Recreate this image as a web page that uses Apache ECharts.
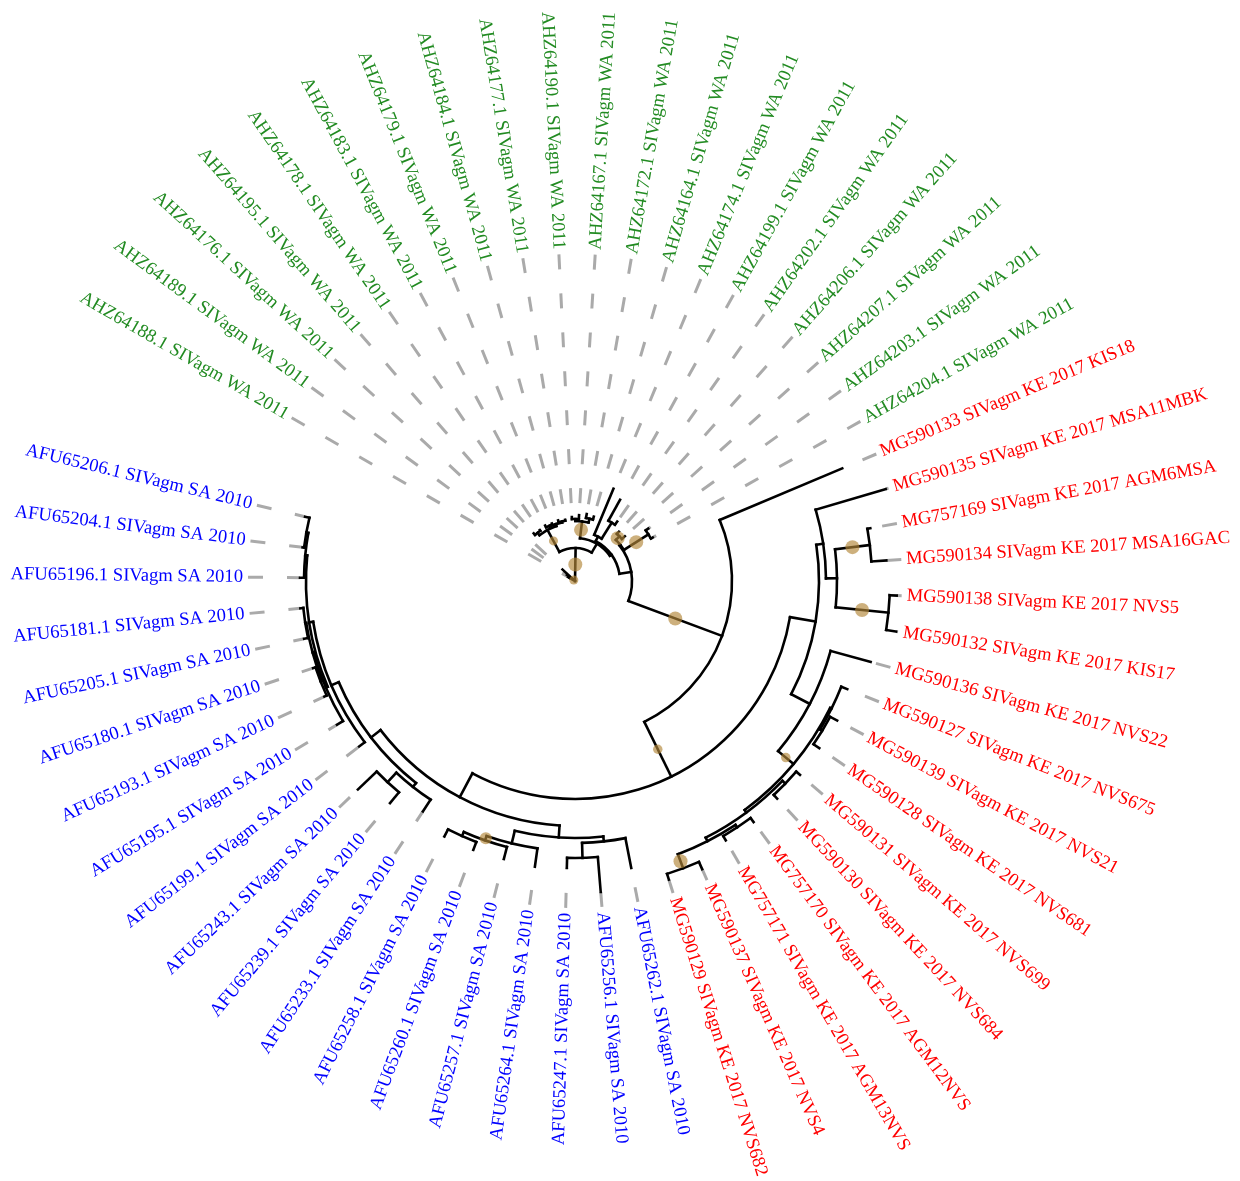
<!DOCTYPE html>
<html><head><meta charset="utf-8">
<script src="https://cdn.jsdelivr.net/npm/echarts@6.0.0/dist/echarts.min.js"></script>
<style>html,body{margin:0;padding:0;background:#fff}#c{width:1240px;height:1181px}</style>
</head><body><div id="c"></div>
<script>
// ---------------- data ----------------
const tipNames = [
 'AFU65206.1 SIVagm SA 2010','AFU65204.1 SIVagm SA 2010','AFU65196.1 SIVagm SA 2010','AFU65181.1 SIVagm SA 2010',
 'AFU65205.1 SIVagm SA 2010','AFU65180.1 SIVagm SA 2010','AFU65193.1 SIVagm SA 2010','AFU65195.1 SIVagm SA 2010',
 'AFU65199.1 SIVagm SA 2010','AFU65243.1 SIVagm SA 2010','AFU65239.1 SIVagm SA 2010','AFU65233.1 SIVagm SA 2010',
 'AFU65258.1 SIVagm SA 2010','AFU65260.1 SIVagm SA 2010','AFU65257.1 SIVagm SA 2010','AFU65264.1 SIVagm SA 2010',
 'AFU65247.1 SIVagm SA 2010','AFU65256.1 SIVagm SA 2010','AFU65262.1 SIVagm SA 2010',
 'MG590129 SIVagm KE 2017 NVS682','MG590137 SIVagm KE 2017 NVS4','MG757171 SIVagm KE 2017 AGM13NVS',
 'MG757170 SIVagm KE 2017 AGM12NVS','MG590130 SIVagm KE 2017 NVS684','MG590131 SIVagm KE 2017 NVS699',
 'MG590128 SIVagm KE 2017 NVS681','MG590139 SIVagm KE 2017 NVS21','MG590127 SIVagm KE 2017 NVS675',
 'MG590136 SIVagm KE 2017 NVS22','MG590132 SIVagm KE 2017 KIS17','MG590138 SIVagm KE 2017 NVS5',
 'MG590134 SIVagm KE 2017 MSA16GAC','MG757169 SIVagm KE 2017 AGM6MSA','MG590135 SIVagm KE 2017 MSA11MBK',
 'MG590133 SIVagm KE 2017 KIS18',
 'AHZ64204.1 SIVagm WA 2011','AHZ64203.1 SIVagm WA 2011','AHZ64207.1 SIVagm WA 2011','AHZ64206.1 SIVagm WA 2011',
 'AHZ64202.1 SIVagm WA 2011','AHZ64199.1 SIVagm WA 2011','AHZ64174.1 SIVagm WA 2011','AHZ64164.1 SIVagm WA 2011',
 'AHZ64172.1 SIVagm WA 2011','AHZ64167.1 SIVagm WA 2011','AHZ64190.1 SIVagm WA 2011','AHZ64177.1 SIVagm WA 2011',
 'AHZ64184.1 SIVagm WA 2011','AHZ64179.1 SIVagm WA 2011','AHZ64183.1 SIVagm WA 2011','AHZ64178.1 SIVagm WA 2011',
 'AHZ64195.1 SIVagm WA 2011','AHZ64176.1 SIVagm WA 2011','AHZ64189.1 SIVagm WA 2011','AHZ64188.1 SIVagm WA 2011'
];
const tipGroup = [
 'SA','SA','SA','SA','SA','SA','SA','SA','SA','SA','SA','SA','SA','SA','SA','SA','SA','SA','SA',
 'KE','KE','KE','KE','KE','KE','KE','KE','KE','KE','KE','KE','KE','KE','KE','KE',
 'WA','WA','WA','WA','WA','WA','WA','WA','WA','WA','WA','WA','WA','WA','WA','WA','WA','WA','WA','WA'
];
// distance of each tip from the root (tree units)
const tipDepth = [
 2.775,2.745,2.75,2.76,2.77,2.76,2.76,2.78,2.72,3.01,2.89,2.76,2.87,2.875,2.87,2.885,2.87,3.12,2.925,
 3.13,3.15,3.00,3.00,2.97,2.97,2.96,2.97,2.93,3.065,3.25,3.22,3.12,3.00,3.24,2.90,
 0.89,0.90,0.67,0.66,0.73,0.93,1.00,0.67,0.68,0.66,0.64,0.62,0.63,0.62,0.63,0.62,0.63,0.17,0.10,0.08
];
// internal nodes: name, depth from root, children, bootstrap support (0 = not shown)
const nodeName  = ['root','N33','Rp','R','nA','n157','n218','nB','nBL','nBLa','X','X2','X3','X6','W','W1','W2',
  'nBLb','n275','nBR','c1','n2745','n279','nR262','n277','n243','n265','n285','Q','Qa','Q11','Q12','Qb','P','P1',
  'n251','n262','n315','n297','G3','G36','G38','nT','nT2','M','M1','M2','L','L1','L11','L12','L2','B','nB2'];
const nodeDepth = [0,0.33,0.43,0.45,0.57,1.57,2.18,2.45,2.57,2.65,2.69,2.71,2.73,2.71,2.72,2.73,2.735,
  2.62,2.75,2.57,2.70,2.745,2.79,2.62,2.77,2.44,2.65,2.85,2.88,2.92,3.07,2.95,2.92,2.865,2.89,
  2.51,2.62,3.15,2.97,0.58,0.87,0.63,0.50,0.69,0.60,0.64,0.62,0.58,0.60,0.61,0.61,0.61,0.03,0.06];
const nodeKids  = [
 ['N33','B'],['Rp','L'],['R','M'],['nA','nT'],['n157','G3'],['n218','t35'],['nB','n243'],['nBL','nBR'],
 ['nBLa','nBLb'],['X','t9'],['X2','X6'],['X3','t3'],['t1','t2'],['W','t8'],['W1','W2'],['t4','t5'],['t6','t7'],
 ['n275','t12'],['t10','t11'],['c1','nR262'],['n2745','t16'],['n279','t15'],['t13','t14'],['n277','t19'],['t17','t18'],
 ['n265','n251'],['n285','t29'],['Q','P'],['Qa','Qb'],['Q11','Q12'],['t20','t21'],['t22','t23'],['t24','t25'],
 ['P1','t28'],['t26','t27'],
 ['n262','t34'],['n315','n297'],['t30','t31'],['t32','t33'],
 ['G36','G38'],['t36','t37'],['t38','t39'],['nT2','t42'],['t40','t41'],['M1','M2'],['t43','t44'],['t45','t46'],
 ['L1','L2'],['L11','L12'],['t47','t48'],['t49','t50'],['t51','t52'],['t53','nB2'],['t54','t55']
];
const nodeSupport = {N33:100, M:100, L:45, B:45, n157:100, n218:50, n285:50, n297:100, n315:100,
  Q11:100, n2745:80, G38:100, G36:100};
const groupColor = {SA:'#0000FF', KE:'#FF0000', WA:'#228B22'};
const labelRadius = 3.32;

// ---------------- layout (ggtree-style circular) ----------------
const depthOf = {}, angleOf = {}, parentOf = {};
tipNames.forEach((n,i)=>{ depthOf['t'+(i+1)] = tipDepth[i]; angleOf['t'+(i+1)] = i+1; });
nodeName.forEach((n,i)=>{ depthOf[n] = nodeDepth[i]; nodeKids[i].forEach(k=>parentOf[k]=n); });
function ang(id){
  if (angleOf[id] !== undefined) return angleOf[id];
  const i = nodeName.indexOf(id);
  const a = nodeKids[i].map(ang);
  angleOf[id] = a.reduce((s,v)=>s+v,0)/a.length;
  return angleOf[id];
}
ang('root');
const branchData = [];  // [kind, r0, r1, a0, a1]
Object.keys(parentOf).forEach(id=>{
  branchData.push([0, depthOf[parentOf[id]], depthOf[id], angleOf[id], angleOf[id]]);
});
nodeName.forEach((n,i)=>{
  const a = nodeKids[i].map(k=>angleOf[k]);
  branchData.push([1, nodeDepth[i], nodeDepth[i], Math.min(...a), Math.max(...a)]);
});
const dashData = tipNames.map((n,i)=>[tipDepth[i], labelRadius-0.05, i+1]);
const labelData = tipNames.map((n,i)=>[labelRadius, i+1, n, tipGroup[i]]);
const dotData = [];
Object.keys(nodeSupport).forEach(n=>{
  dotData.push([(depthOf[n]+depthOf[parentOf[n]])/2, angleOf[n], nodeSupport[n]]);
});

// ---------------- chart ----------------
const chart = echarts.init(document.getElementById('c'));
const FONT = '18.6px "Liberation Serif", "Times New Roman", serif';
chart.setOption({
  animation:false,
  polar:{center:[575,581], radius:331},
  angleAxis:{type:'value', min:0, max:56.6, startAngle:160.24, clockwise:false, show:false},
  radiusAxis:{type:'value', min:0, max:3.31, show:false},
  series:[
    { type:'custom', coordinateSystem:'polar', data:dashData, silent:true, z:1,
      encode:{radius:0, angle:2},
      renderItem(params, api){
        const p0 = api.coord([api.value(1), api.value(2)]);
        const p1 = api.coord([api.value(0), api.value(2)]);
        return {type:'line', shape:{x1:p0[0],y1:p0[1],x2:p1[0],y2:p1[1]},
          style:{stroke:'#AAAAAA', lineWidth:3, lineDash:[15,24]}};
      }},
    { type:'custom', coordinateSystem:'polar', data:branchData, silent:true, z:2,
      encode:{radius:1, angle:3},
      renderItem(params, api){
        const cs = params.coordSys;
        if (api.value(0) === 0) {
          const p0 = api.coord([api.value(1), api.value(3)]);
          const p1 = api.coord([api.value(2), api.value(3)]);
          return {type:'line', shape:{x1:p0[0],y1:p0[1],x2:p1[0],y2:p1[1]},
            style:{stroke:'#000', lineWidth:2.6, lineCap:'square'}};
        }
        const pa = api.coord([api.value(1), api.value(3)]);
        const pb = api.coord([api.value(1), api.value(4)]);
        const r = Math.hypot(pa[0]-cs.cx, pa[1]-cs.cy);
        return {type:'arc', shape:{cx:cs.cx, cy:cs.cy, r:r,
            startAngle:Math.atan2(pa[1]-cs.cy, pa[0]-cs.cx),
            endAngle:Math.atan2(pb[1]-cs.cy, pb[0]-cs.cx), clockwise:false},
          style:{stroke:'#000', fill:null, lineWidth:2.6, lineCap:'square'}};
      }},
    { type:'scatter', coordinateSystem:'polar', data:dotData, z:3, silent:true,
      symbolSize:(v)=> 5 + v[2]*0.09,
      itemStyle:{color:'rgba(178,134,56,0.82)'} },
    { type:'custom', coordinateSystem:'polar', data:labelData, silent:true, z:4,
      encode:{radius:0, angle:1},
      renderItem(params, api){
        const cs = params.coordSys;
        const d = labelData[params.dataIndex];
        const p = api.coord([d[0], d[1]]);
        const th = Math.atan2(cs.cy - p[1], p[0] - cs.cx);
        const right = Math.cos(th) >= 0;
        return {type:'text', x:p[0], y:p[1], rotation: right ? th : th - Math.PI,
          style:{text:d[2], fill:groupColor[d[3]], font:FONT, align: right ? 'left':'right', verticalAlign:'middle'}};
      }}
  ]
});
</script></body></html>
